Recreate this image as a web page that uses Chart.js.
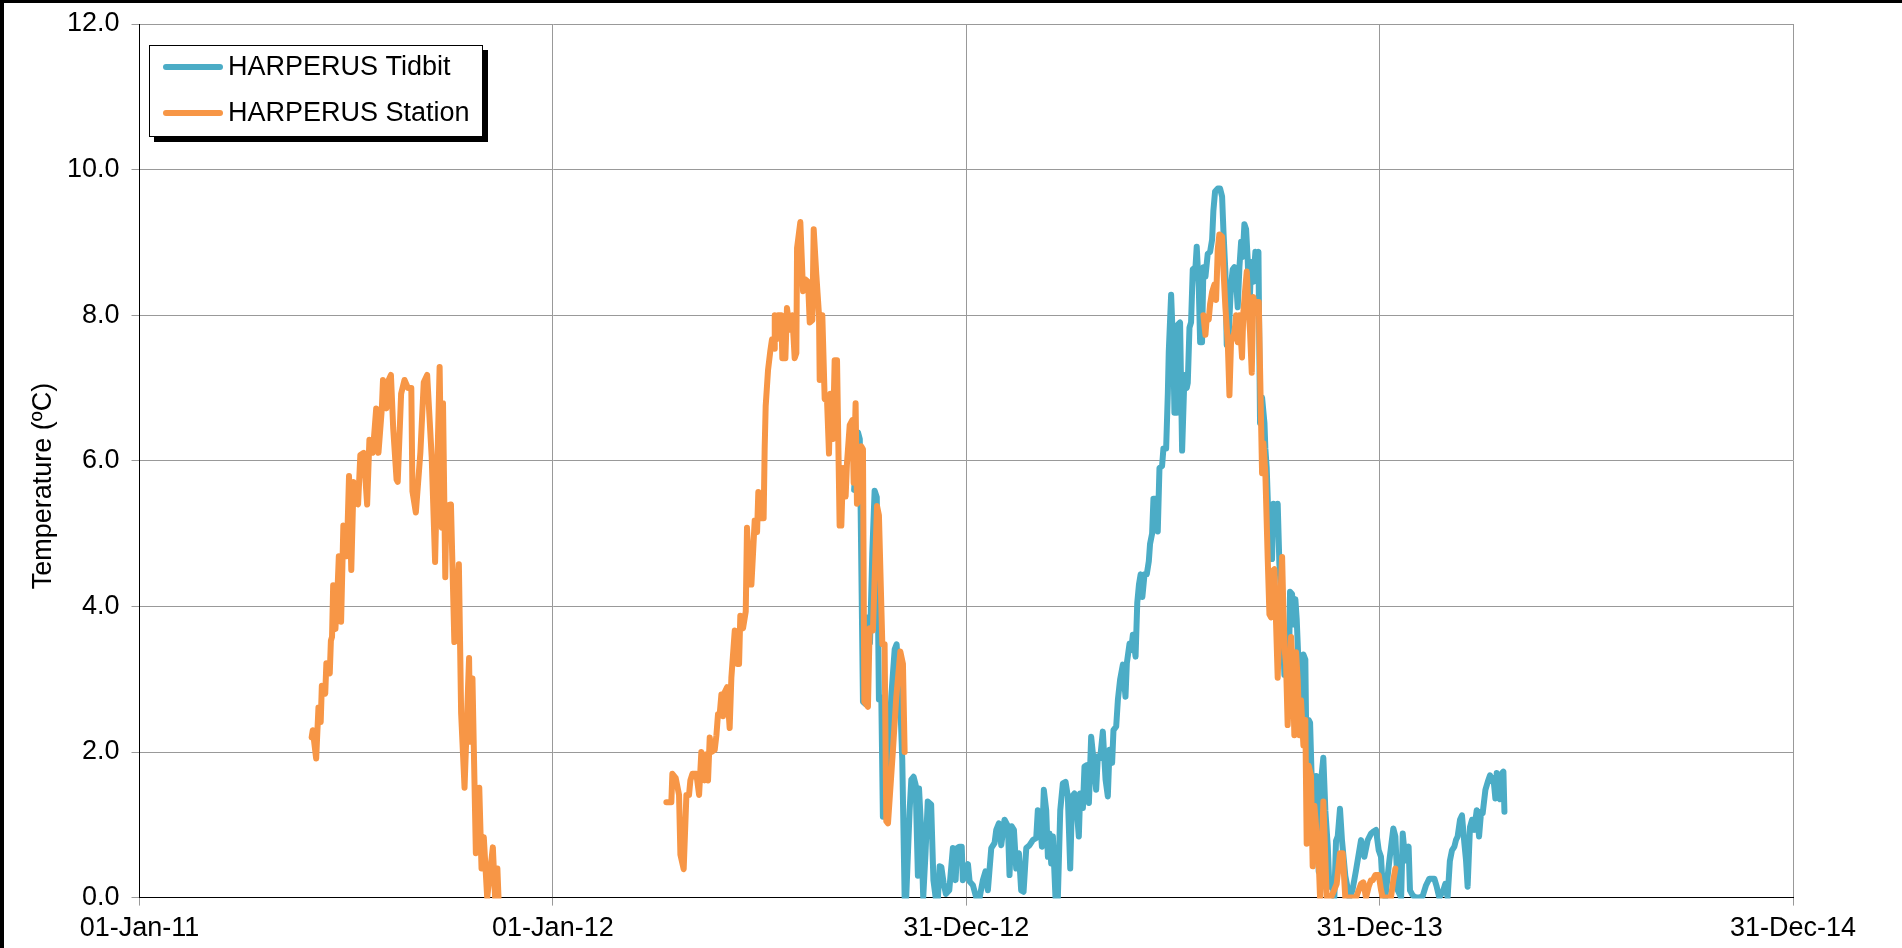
<!DOCTYPE html>
<html>
<head>
<meta charset="utf-8">
<script src="https://cdn.jsdelivr.net/npm/chart.js@4.4.1/dist/chart.umd.min.js"></script>
<style>
html,body{margin:0;padding:0;background:#fff;overflow:hidden;}
#wrap{position:relative;width:1902px;height:948px;}
canvas{display:block;}
</style>
</head>
<body>
<div id="wrap"><canvas id="c" width="1902" height="948"></canvas></div>
<script>
// ---- axis ticks (x = days since 01-Jan-2011) ----
const xTickDays   = [0, 365, 730, 1095, 1460];
const xTickLabels = ['01-Jan-11', '01-Jan-12', '31-Dec-12', '31-Dec-13', '31-Dec-14'];
const yTicks      = [0, 2, 4, 6, 8, 10, 12];
const yAxisTitle  = 'Temperature (ºC)';
const seriesNames = ['HARPERUS Tidbit', 'HARPERUS Station'];

// ---- HARPERUS Tidbit ----
const tidbitDays = [
631,634.4,636,638.8,641,643.2,645,647,649.1,651,
652.9,655,656.4,659,663.8,666.8,668.5,671.7,673.5,675.6,
677,680,681.5,683.5,685.3,687.3,688.3,690.3,692,694,
696,699,701,703,705,706.5,708,710,712,715,
718.2,720.6,722,724.1,726,727,729,731.5,733,735.9,
738.8,741.8,744.7,747,749.1,752.1,755,756.5,758.8,760.9,
763.8,766.8,768.2,770,772.1,774.1,776.5,778.5,780.6,783,
785.9,788.8,791.8,793.2,794.7,796.8,798.5,800.6,802.1,803.5,
805,806.5,808.8,810.9,813,815.3,817.7,819.7,821.8,823.5,
825.6,827.1,829.4,830.6,833,834.4,836.5,838.3,840.3,842.4,
844.7,846.2,848.3,850.6,853,855,856.5,858.8,860,862.4,
863.9,865.9,868.3,870.6,871.8,874.2,875.6,877.1,879.5,881,
882.5,884,885.5,887.4,889.4,891.2,892.3,894.1,895.3,897.6,
899.1,900.6,902.9,904.1,906.5,908,908.8,910.9,913,913.8,
915.9,916.8,918.8,920.6,922.7,924.7,925.6,927.1,928.5,930,
932.4,933.5,935.3,936.5,938.2,939.4,941.2,943.2,945.3,947.1,
948.2,949.7,952.1,954.1,955.9,957.1,958.8,960,961.8,963.8,
965.3,966.8,968.3,969.7,971.2,972.7,974.1,975.6,977.1,978.5,
980,981.5,983.5,985.3,986.5,988,989.4,991.2,993.3,994.1,
995.3,997.1,998.3,1000,1001.2,1003,1005,1006.5,1008,1009.4,
1010.9,1013,1014.7,1015.9,1017.7,1018.9,1020.6,1021.8,1023.6,1024.7,
1026.5,1027.7,1029.4,1030.6,1032.4,1033.6,1035.3,1037.4,1038.9,1041.2,
1043.3,1045.3,1047.1,1049.2,1050.6,1053,1055,1056.5,1058,1060,
1061.8,1064.7,1068.3,1071,1074.2,1078.6,1081.5,1084.5,1087.4,1089,
1091.8,1094.2,1096.2,1097.7,1100,1103.6,1107.1,1108.9,1111,1114,
1115.4,1117.7,1120.6,1121.8,1124.2,1127.1,1130,1133,1136,1138.9,
1143.3,1145.4,1147.7,1151.2,1153,1155,1157,1158.9,1161,1162.4,
1163.9,1166,1167.7,1169.8,1171.3,1172.7,1174.8,1176.6,1178.6,1180.7,
1182.8,1184.6,1186,1188.4,1190.5,1192.5,1194.3,1195.5,1197.2,1198.4,
1200.2,1201.4,1203.1,1204.3,1205.2
];
const tidbitTemps = [
5.6,6.39,6.3,2.69,2.66,3.85,3.5,4.72,5.59,5.5,
2.72,2.75,1.11,1.11,2.76,3.41,3.48,2.69,1.9,0,
0,1.2,1.62,1.66,1.55,0.3,1.5,0.9,0,0.6,
1.32,1.28,0.24,0,0,0.43,0.42,0.2,0.05,0.1,
0.68,0.24,0.68,0.7,0.7,0.24,0.3,0.46,0.22,0.17,
0,0,0.24,0.36,0.1,0.68,0.75,0.93,1.02,0.72,
1.07,0.98,0.31,0.98,0.93,0.4,0.61,0.1,0.08,0.68,
0.72,0.79,0.82,1.2,1.15,0.7,1.48,1.2,0.56,0.88,
0.47,0.84,0,0,1.2,1.57,1.59,1.39,0.4,1.39,
1.43,1.3,0.84,1.43,1.23,1.8,1.82,1.3,2.21,1.89,
1.48,1.94,1.92,2.28,1.62,1.39,2.03,1.85,2.3,2.35,
2.72,3.0,3.2,2.76,3.22,3.49,3.4,3.61,3.31,4.05,
4.3,4.44,4.13,4.44,4.44,4.62,4.86,5.0,5.48,5.48,
5.03,5.9,5.93,6.17,6.17,6.93,7.49,8.28,7.42,6.66,
6.66,7.87,7.9,6.14,7.18,7.0,7.07,7.83,7.9,8.63,
8.66,8.94,8.39,7.63,7.63,8.66,8.53,8.84,8.87,9.04,
9.43,9.7,9.74,9.74,9.63,9.15,8.6,7.59,7.76,8.42,
8.63,8.66,8.46,8.11,8.66,9.01,8.8,9.25,9.18,8.77,
8.04,8.73,8.46,8.87,8.8,8.87,6.52,6.87,6.52,6.17,
5.9,5.07,5.07,4.65,5.41,5.13,5.41,4.58,4.17,3.75,
3.06,3.4,2.92,4.2,4.17,3.75,4.1,3.82,3.13,2.64,
2.78,3.34,3.27,1.67,2.44,2.4,1.47,1.4,1.67,0.36,
1.61,1.92,1.19,0.71,0.15,0.2,0,0.78,0.84,1.22,
0.78,0.3,0,0.1,0.38,0.79,0.56,0.79,0.88,0.9,
0.93,0.65,0.56,0.15,0,0.51,0.95,0.84,0.1,0,
0.88,0.51,0.7,0.1,0.03,0,0,0.02,0.17,0.26,
0.26,0.15,0,0.1,0.19,0,0.5,0.65,0.7,0.79,
0.84,1.07,1.13,0.75,0.51,0.15,0.97,1.07,0.93,1.2,
0.84,1.18,1.16,1.48,1.59,1.68,1.6,1.64,1.36,1.71,
1.62,1.35,1.71,1.73,1.18
];

// ---- HARPERUS Station (three separate records) ----
const station2011Days = [152,153,156,158,160,161,164,165,168,169,170,171,173,175,176,178,180,183,185,187,189,193,195,198,201,203,206,209,211,214,215,218,220,222,224,227,228,231,234,237,240,241,244,248,251,254,258,261,265,267,268,270,271,275,278,282,284,287,291,292,294,297,300,302,304,307,312,314,316,317];
const station2011Temps = [2.20,2.30,1.91,2.61,2.41,2.91,2.80,3.22,3.08,3.53,3.58,4.29,3.69,4.29,4.69,3.79,5.11,4.69,5.79,4.50,5.71,5.40,6.08,6.11,5.40,6.29,6.11,6.72,6.11,6.72,7.11,6.72,7.11,7.18,6.45,5.74,5.71,6.92,7.11,7.00,7.00,5.58,5.29,6.11,7.08,7.18,6.05,4.61,7.29,5.08,6.79,4.40,5.38,5.40,3.51,4.58,2.53,1.51,3.29,2.14,3.01,0.61,1.51,0.40,0.83,0.00,0.69,0.00,0.40,0.00];

const station2012Days = [465.2,469.6,470.5,473.5,476.4,477.6,480.5,482.9,485.2,486.4,488.2,491.7,494.1,496.1,499.1,500.5,502,503.5,505,507.9,509.4,510.8,512.3,513.8,515.3,516.7,518.8,521.1,522.6,525.6,527.6,529.4,530.5,532.9,535.3,536.4,538.8,540.3,541.7,543.2,545.3,546.4,548.2,551.1,552,552.9,555,557,558.5,560.3,560.9,562.3,563.8,566.7,567.6,570.3,571.7,574.1,576.4,578.5,580,580.6,583.5,585.9,588,590.3,591.8,594.1,595.3,597.6,600,600.6,602.9,605,607.1,608.8,610,612.3,613.8,615.9,618.2,619.7,621.2,623.5,624.7,627.1,629.4,630.6,632.3,633.5,635.9,637.3,638.8,640,643.2,644.7,647.6,651.2,652.9,655.9,657.9,659.4,660.9,665.3,668.2,671.8,674.1,675.6];
const station2012Temps = [1.31,1.31,1.70,1.64,1.41,0.59,0.39,1.41,1.41,1.61,1.70,1.70,1.41,2.00,1.61,1.97,1.61,2.20,2.00,2.03,2.23,2.52,2.52,2.79,2.49,2.82,2.89,2.33,3.02,3.67,3.21,3.21,3.87,3.70,3.93,5.08,4.30,4.30,4.72,5.18,5.02,5.57,5.21,5.21,6.16,6.75,7.25,7.51,7.67,7.54,8.00,7.67,8.00,8.00,7.41,7.41,8.10,7.80,8.00,7.41,7.48,8.92,9.28,8.33,8.49,8.46,7.90,7.93,9.18,8.56,8.00,7.11,8.00,6.85,6.82,6.10,6.92,6.30,7.38,7.38,5.11,5.11,5.90,5.51,5.97,6.49,6.56,5.70,6.79,5.41,5.48,6.20,6.16,2.69,2.62,3.70,3.67,5.38,5.25,3.48,3.48,1.05,1.02,2.03,2.75,3.38,3.21,2.00];

const station2013Days = [939.4,941.2,942.4,944.1,945.3,947.1,949.1,950.6,952.1,953.5,955.9,957.1,958.8,960.9,962.4,963.8,965.3,966.8,968.3,969.7,971.2,973.5,974.7,976.5,977.7,979.4,980.6,982.1,983.5,985.3,986.5,988.3,989.4,991.2,992.4,994.1,996.2,997.7,999.1,1000,1002.1,1003.6,1005,1006.5,1008,1008.9,1010,1011.2,1012.4,1013.8,1015.3,1016.8,1018.3,1019.7,1021.2,1022.7,1024.2,1025.6,1027.7,1029.4,1030.6,1032.4,1034.4,1035.9,1037.4,1038.9,1041.2,1042.4,1044,1045.3,1048.3,1052.1,1057.1,1060,1062.4,1064.7,1068,1074.2,1078.6,1080.6,1083,1085.3,1087.4,1089,1091.2,1094.2,1096.2,1097.7,1105,1107.1,1108.9];
const station2013Temps = [8.00,7.73,7.97,7.94,8.15,8.32,8.42,8.21,8.91,9.11,9.08,8.63,8.11,7.63,6.90,7.63,7.70,7.76,8.00,7.63,8.00,7.42,8.04,8.39,8.60,8.04,7.76,7.21,8.25,8.04,8.18,8.18,7.28,5.83,6.24,5.83,4.65,3.89,3.85,4.48,4.51,3.75,3.02,3.75,4.34,4.68,3.96,3.40,3.20,2.37,2.92,3.58,3.20,2.23,3.37,2.99,2.23,2.71,2.09,2.44,0.74,1.81,1.67,0.43,1.26,0.98,0.50,0.00,0.60,1.32,0.00,0.00,0.19,0.61,0.61,0.00,0.00,0.00,0.19,0.21,0.00,0.15,0.24,0.24,0.31,0.31,0.11,0.00,0.00,0.24,0.40];

// ---- build point lists ----
function zip(days, temps) { return days.map((d, i) => ({x: d, y: temps[i]})); }
const tidbitData = zip(tidbitDays, tidbitTemps);
const stationData = [].concat(
  zip(station2011Days, station2011Temps),
  [{x: 390, y: null}],
  zip(station2012Days, station2012Temps),
  [{x: 800, y: null}],
  zip(station2013Days, station2013Temps)
);

const FONT = '"Liberation Sans", Arial, Helvetica, sans-serif';
const FSIZE = 27;
const BLUE = '#4BACC6';
const ORANGE = '#F79646';

const framePlugin = {
  id: 'frame',
  beforeDraw(chart) {
    const ctx = chart.ctx;
    ctx.save();
    ctx.fillStyle = '#ffffff';
    ctx.fillRect(0, 0, chart.width, chart.height);
    ctx.fillStyle = '#000000';
    ctx.fillRect(0, 0, 4, chart.height);
    ctx.fillRect(0, 0, chart.width, 3);
    ctx.restore();
  },
  afterDraw(chart) {
    const ctx = chart.ctx;
    ctx.save();
    // y axis title
    ctx.fillStyle = '#000';
    ctx.font = FSIZE + 'px ' + FONT;
    ctx.textAlign = 'center';
    ctx.textBaseline = 'middle';
    ctx.translate(44, 486);
    ctx.rotate(-Math.PI / 2);
    ctx.fillText(yAxisTitle, 0, 0);
    ctx.restore();

    // legend box with shadow
    ctx.save();
    const bx = 149, by = 45, bw = 334, bh = 92;
    ctx.fillStyle = '#000';
    ctx.fillRect(bx + 5, by + 5, bw, bh);
    ctx.fillStyle = '#fff';
    ctx.fillRect(bx, by, bw, bh);
    ctx.strokeStyle = '#000';
    ctx.lineWidth = 1;
    ctx.strokeRect(bx + 0.5, by + 0.5, bw - 1, bh - 1);
    const rows = [67, 113];
    const legendSets = [chart.data.datasets[0], chart.data.datasets[1]];
    legendSets.forEach((ds, i) => {
      ctx.strokeStyle = ds.borderColor;
      ctx.lineWidth = 6;
      ctx.lineCap = 'round';
      ctx.beginPath();
      ctx.moveTo(166, rows[i]);
      ctx.lineTo(220, rows[i]);
      ctx.stroke();
      ctx.fillStyle = '#000';
      ctx.font = FSIZE + 'px ' + FONT;
      ctx.textAlign = 'left';
      ctx.textBaseline = 'middle';
      ctx.fillText(ds.label, 228, rows[i] + 1);
    });
    ctx.restore();
  }
};

new Chart(document.getElementById('c').getContext('2d'), {
  type: 'line',
  data: {
    datasets: [
      {
        label: seriesNames[0],
        data: tidbitData,
        borderColor: BLUE,
        backgroundColor: BLUE,
        borderWidth: 6,
        pointRadius: 0,
        tension: 0,
        borderJoinStyle: 'round',
        borderCapStyle: 'round',
        spanGaps: false,
        clip: 1,
        order: 2
      },
      {
        label: seriesNames[1],
        data: stationData,
        borderColor: ORANGE,
        backgroundColor: ORANGE,
        borderWidth: 6,
        pointRadius: 0,
        tension: 0,
        borderJoinStyle: 'round',
        borderCapStyle: 'round',
        spanGaps: false,
        clip: 1,
        order: 1
      }
    ]
  },
  options: {
    responsive: false,
    animation: false,
    devicePixelRatio: 1,
    events: [],
    layout: { padding: { left: 0, top: 24, right: 109, bottom: 0 } },
    plugins: { legend: { display: false }, tooltip: { enabled: false }, title: { display: false } },
    scales: {
      x: {
        type: 'linear',
        min: 0,
        max: 1460,
        afterBuildTicks: (s) => { s.ticks = xTickDays.map(v => ({ value: v })); },
        afterFit: (s) => { s.height = 948 - 897.6; },
        ticks: {
          autoSkip: false,
          maxRotation: 0,
          minRotation: 0,
          padding: 7,
          color: '#000',
          font: { family: FONT, size: FSIZE },
          callback: (v) => { const i = xTickDays.indexOf(v); return i >= 0 ? xTickLabels[i] : ''; }
        },
        grid: { color: '#999999', lineWidth: 1, tickLength: 8, drawTicks: true, tickColor: '#999999' },
        border: { color: '#000000', width: 1 }
      },
      y: {
        min: 0,
        max: 12,
        afterBuildTicks: (s) => { s.ticks = yTicks.map(v => ({ value: v })); },
        afterFit: (s) => { s.width = 139.5; s.paddingTop = 0; s.paddingBottom = 0; },
        ticks: {
          padding: 12,
          color: '#000',
          font: { family: FONT, size: FSIZE },
          callback: (v) => Number(v).toFixed(1)
        },
        grid: { color: '#999999', lineWidth: 1, tickLength: 8, drawTicks: true, tickColor: '#999999' },
        border: { color: '#000000', width: 1 }
      }
    }
  },
  plugins: [framePlugin]
});
</script>
</body>
</html>
